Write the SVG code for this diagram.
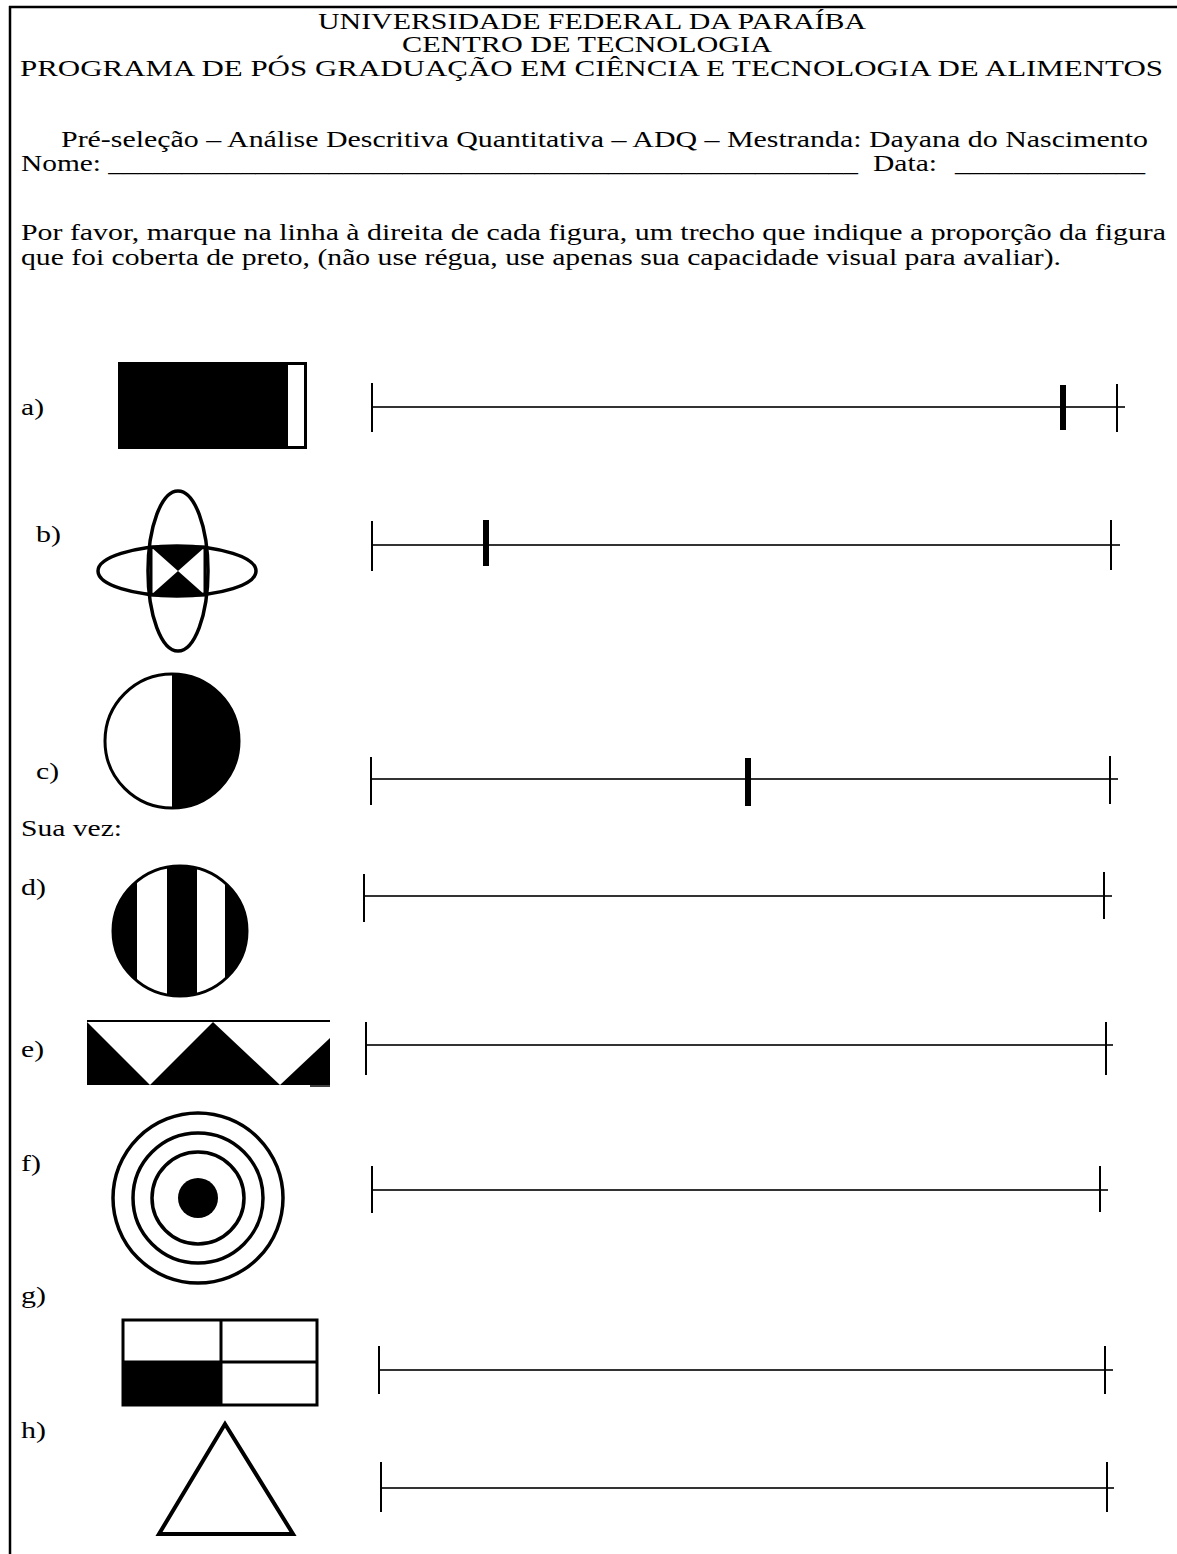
<svg xmlns="http://www.w3.org/2000/svg" width="1177" height="1554" viewBox="0 0 1177 1554">
<style>
text{font-family:"Liberation Serif","Times New Roman",serif;font-size:22.5px;fill:#000}
.hl{stroke:#333;stroke-width:2}
.tk{stroke:#000;stroke-width:2}
.mk{stroke:#000;stroke-width:6}
.fo{stroke:#000;fill:none}
</style>
<defs>
<clipPath id="clipD"><ellipse cx="180" cy="931" rx="67" ry="65"/></clipPath>
</defs>
<rect width="1177" height="1554" fill="#fff"/>
<g id="border">
<line x1="9" y1="7" x2="1177" y2="7" stroke="#000" stroke-width="2.5"/>
<line x1="10" y1="6" x2="10" y2="1554" stroke="#000" stroke-width="2.5"/>
</g>
<g id="header">
<text x="318" y="29" textLength="548" lengthAdjust="spacingAndGlyphs">UNIVERSIDADE FEDERAL DA PARAÍBA</text>
<text x="402" y="52" textLength="370" lengthAdjust="spacingAndGlyphs">CENTRO DE TECNOLOGIA</text>
<text x="20" y="76" textLength="1143" lengthAdjust="spacingAndGlyphs">PROGRAMA DE PÓS GRADUAÇÃO EM CIÊNCIA E TECNOLOGIA DE ALIMENTOS</text>
<text x="61" y="147" textLength="1087" lengthAdjust="spacingAndGlyphs">Pré-seleção – Análise Descritiva Quantitativa – ADQ – Mestranda: Dayana do Nascimento</text>
<text x="21" y="171" textLength="837" lengthAdjust="spacingAndGlyphs">Nome: ___________________________________________________</text>
<text x="873" y="171" textLength="64" lengthAdjust="spacingAndGlyphs">Data:</text>
<text x="955" y="171" textLength="190" lengthAdjust="spacingAndGlyphs">_____________</text>
<text x="21" y="240" textLength="1145" lengthAdjust="spacingAndGlyphs">Por favor, marque na linha à direita de cada figura, um trecho que indique a proporção da figura</text>
<text x="21" y="265" textLength="1040" lengthAdjust="spacingAndGlyphs">que foi coberta de preto, (não use régua, use apenas sua capacidade visual para avaliar).</text>
</g>
<g id="item-a">
<text x="21" y="415" textLength="23" lengthAdjust="spacingAndGlyphs">a)</text>
<rect x="119.5" y="363.5" width="186" height="84" fill="#fff" stroke="#000" stroke-width="3"/>
<rect x="118" y="362" width="170" height="87" fill="#000"/>
</g>
<g id="item-b">
<text x="36" y="542" textLength="25" lengthAdjust="spacingAndGlyphs">b)</text>
<ellipse cx="178" cy="571" rx="30" ry="80" class="fo" stroke-width="3.5"/>
<ellipse cx="177" cy="571" rx="79" ry="25" class="fo" stroke-width="3.5"/>
<rect x="151" y="547" width="54" height="48" class="fo" stroke-width="3"/>
<polygon points="151,547 205,547 178,571" fill="#000"/>
<polygon points="151,595 205,595 178,571" fill="#000"/>
</g>
<g id="item-c">
<text x="36" y="779" textLength="23" lengthAdjust="spacingAndGlyphs">c)</text>
<circle cx="172" cy="741" r="67" class="fo" stroke-width="3"/>
<path d="M172,674 A67,67 0 0 1 172,808 Z" fill="#000"/>
</g>
<text x="21" y="836" textLength="101" lengthAdjust="spacingAndGlyphs">Sua vez:</text>
<g id="item-d">
<text x="21" y="895" textLength="25" lengthAdjust="spacingAndGlyphs">d)</text>
<g clip-path="url(#clipD)">
<rect x="100" y="860" width="37" height="150" fill="#000"/>
<rect x="167" y="860" width="30" height="150" fill="#000"/>
<rect x="225" y="860" width="30" height="150" fill="#000"/>
</g>
<ellipse cx="180" cy="931" rx="67" ry="65" class="fo" stroke-width="3"/>
</g>
<g id="item-e">
<text x="21" y="1057" textLength="23" lengthAdjust="spacingAndGlyphs">e)</text>
<rect x="87" y="1022" width="243" height="63" fill="#000"/>
<polygon points="87,1022 213,1022 150,1085" fill="#fff"/>
<polygon points="213,1022 347,1022 280,1085" fill="#fff"/>
<rect x="330" y="1000" width="30" height="100" fill="#fff"/>
<line x1="87" y1="1021" x2="330" y2="1021" stroke="#000" stroke-width="2"/>
<line x1="310" y1="1086" x2="330" y2="1086" stroke="#000" stroke-width="1.5"/>
</g>
<g id="item-f">
<text x="21" y="1171" textLength="20" lengthAdjust="spacingAndGlyphs">f)</text>
<circle cx="198" cy="1198" r="85" class="fo" stroke-width="3.5"/>
<circle cx="198" cy="1198" r="65" class="fo" stroke-width="3.5"/>
<circle cx="198" cy="1198" r="46" class="fo" stroke-width="3.5"/>
<circle cx="198" cy="1198" r="20" fill="#000"/>
</g>
<g id="item-g">
<text x="21" y="1303" textLength="25" lengthAdjust="spacingAndGlyphs">g)</text>
<rect x="123" y="1362" width="98" height="43" fill="#000"/>
<rect x="123" y="1320" width="194" height="85" class="fo" stroke-width="3"/>
<line x1="123" y1="1362" x2="317" y2="1362" class="fo" stroke-width="3"/>
<line x1="221" y1="1320" x2="221" y2="1405" class="fo" stroke-width="3"/>
</g>
<g id="item-h">
<text x="21" y="1438" textLength="25" lengthAdjust="spacingAndGlyphs">h)</text>
<polygon points="225,1424 159,1534 293,1534" fill="#fff" stroke="#000" stroke-width="4"/>
</g>
<g id="connectors">
<g id="scale-a"><line class="hl" x1="372" y1="407" x2="1125" y2="407"/><line class="tk" x1="372" y1="383" x2="372" y2="432"/><line class="tk" x1="1117" y1="384" x2="1117" y2="432"/><line class="mk" x1="1063" y1="385" x2="1063" y2="430"/></g>
<g id="scale-b"><line class="hl" x1="372" y1="545" x2="1120" y2="545"/><line class="tk" x1="372" y1="521" x2="372" y2="571"/><line class="tk" x1="1111" y1="520" x2="1111" y2="570"/><line class="mk" x1="486" y1="520" x2="486" y2="566"/></g>
<g id="scale-c"><line class="hl" x1="371" y1="779" x2="1118" y2="779"/><line class="tk" x1="371" y1="757" x2="371" y2="805"/><line class="tk" x1="1110" y1="756" x2="1110" y2="804"/><line class="mk" x1="748" y1="758" x2="748" y2="806"/></g>
<g id="scale-d"><line class="hl" x1="364" y1="896" x2="1112" y2="896"/><line class="tk" x1="364" y1="874" x2="364" y2="922"/><line class="tk" x1="1104" y1="872" x2="1104" y2="919"/></g>
<g id="scale-e"><line class="hl" x1="366" y1="1045" x2="1113" y2="1045"/><line class="tk" x1="366" y1="1022" x2="366" y2="1075"/><line class="tk" x1="1106" y1="1022" x2="1106" y2="1075"/></g>
<g id="scale-f"><line class="hl" x1="372" y1="1190" x2="1108" y2="1190"/><line class="tk" x1="372" y1="1166" x2="372" y2="1213"/><line class="tk" x1="1100" y1="1166" x2="1100" y2="1212"/></g>
<g id="scale-g"><line class="hl" x1="379" y1="1370" x2="1113" y2="1370"/><line class="tk" x1="379" y1="1346" x2="379" y2="1394"/><line class="tk" x1="1105" y1="1346" x2="1105" y2="1394"/></g>
<g id="scale-h"><line class="hl" x1="381" y1="1488" x2="1114" y2="1488"/><line class="tk" x1="381" y1="1462" x2="381" y2="1512"/><line class="tk" x1="1107" y1="1462" x2="1107" y2="1512"/></g>
</g>
</svg>
